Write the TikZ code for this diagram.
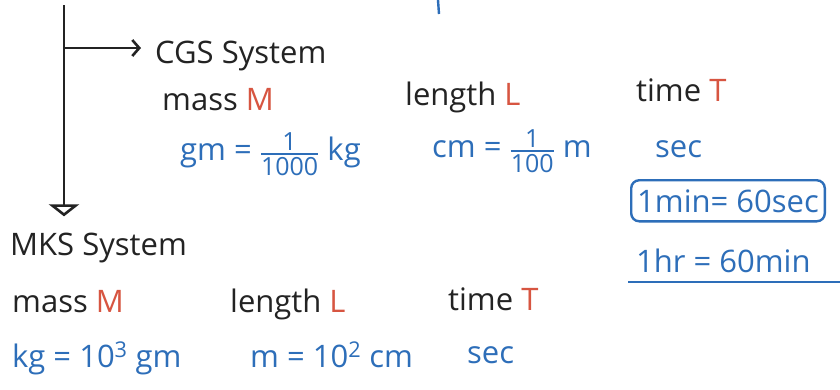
\documentclass[tikz,border=0pt]{standalone}
\usepackage{fontspec}
\usepackage{amsmath}
\setmainfont{Open Sans}
\usetikzlibrary{arrows.meta, positioning, calc}
\definecolor{inkblack}{RGB}{35, 35, 35}
\definecolor{inkblue}{RGB}{45, 110, 185}
\definecolor{inkred}{RGB}{215, 85, 65}
\newcommand{\unitfrac}[2]{\ensuremath{\genfrac{}{}{2.4pt}{}{\hbox{\fontsize{25}{25}\selectfont #1}}{\hbox{\fontsize{25}{25}\selectfont #2}}}}
\newcommand{\dimsym}[1]{\textcolor{inkred}{#1}}

\begin{document}
\begin{tikzpicture}[x=1pt, y=-1pt,
    note/.style={anchor=base west, inner sep=0pt, text=inkblack, font=\fontsize{31}{36}\selectfont},
    unitnote/.style={note, text=inkblue},
    pen/.style={line width=2.6pt, draw=inkblack},
    bluepen/.style={line width=2.4pt, draw=inkblue}]
    \fill[white] (0,0) rectangle (840,389);
    \useasboundingbox (0,0) rectangle (840,389);

    % CGS block
    \node[note] (cgs) at (155,63) {CGS System};
    \node[note] (cgsmass) at (162,110) {mass \dimsym{M}};
    \node[note] (cgslength) at (405,105) {length \dimsym{L}};
    \node[note] (cgstime) at (636,101) {time \dimsym{T}};
    \node[unitnote] (cgsgm) at (180,160) {gm = \unitfrac{1}{1000} kg};
    \node[unitnote] (cgscm) at (432,157) {cm = \unitfrac{1}{100} m};
    \node[unitnote] (cgssec) at (655,157) {sec};
    \node[unitnote, draw=inkblue, line width=2.4pt, rounded corners=8pt,
          inner xsep=6pt, inner ysep=9pt] (minbox) at (630,212) {1min= 60sec};
    \node[unitnote] (hrnote) at (636,272) {1hr = 60min};
    \draw[bluepen] (hrnote.base west) ++(-8,10) -- ++(212,0);

    % MKS block
    \node[note] (mks) at (10,255) {MKS System};
    \node[note] (mksmass) at (12,312) {mass \dimsym{M}};
    \node[note] (mkslength) at (230,312) {length \dimsym{L}};
    \node[note] (mkstime) at (448,310) {time \dimsym{T}};
    \node[unitnote] (mkskg) at (12,367) {kg = 10\textsuperscript{3} gm};
    \node[unitnote] (mksm) at (250,367) {m = 10\textsuperscript{2} cm};
    \node[unitnote] (mkssec) at (467,363) {sec};

    % tree lines
    \coordinate (top) at (64,5);
    \coordinate (fork) at (64,48);
    \draw[pen, -{Triangle[open, width=30pt, length=12pt]}, shorten >=16pt] (top) -- (top |- mks.north);
    \draw[pen, -{Straight Barb[length=7pt, width=16pt]}, shorten >=14pt] (fork) -- (fork -| cgs.west);

    % cut stroke at the top edge
    \draw[bluepen] (438,0) -- (439,14);
\end{tikzpicture}
\end{document}
